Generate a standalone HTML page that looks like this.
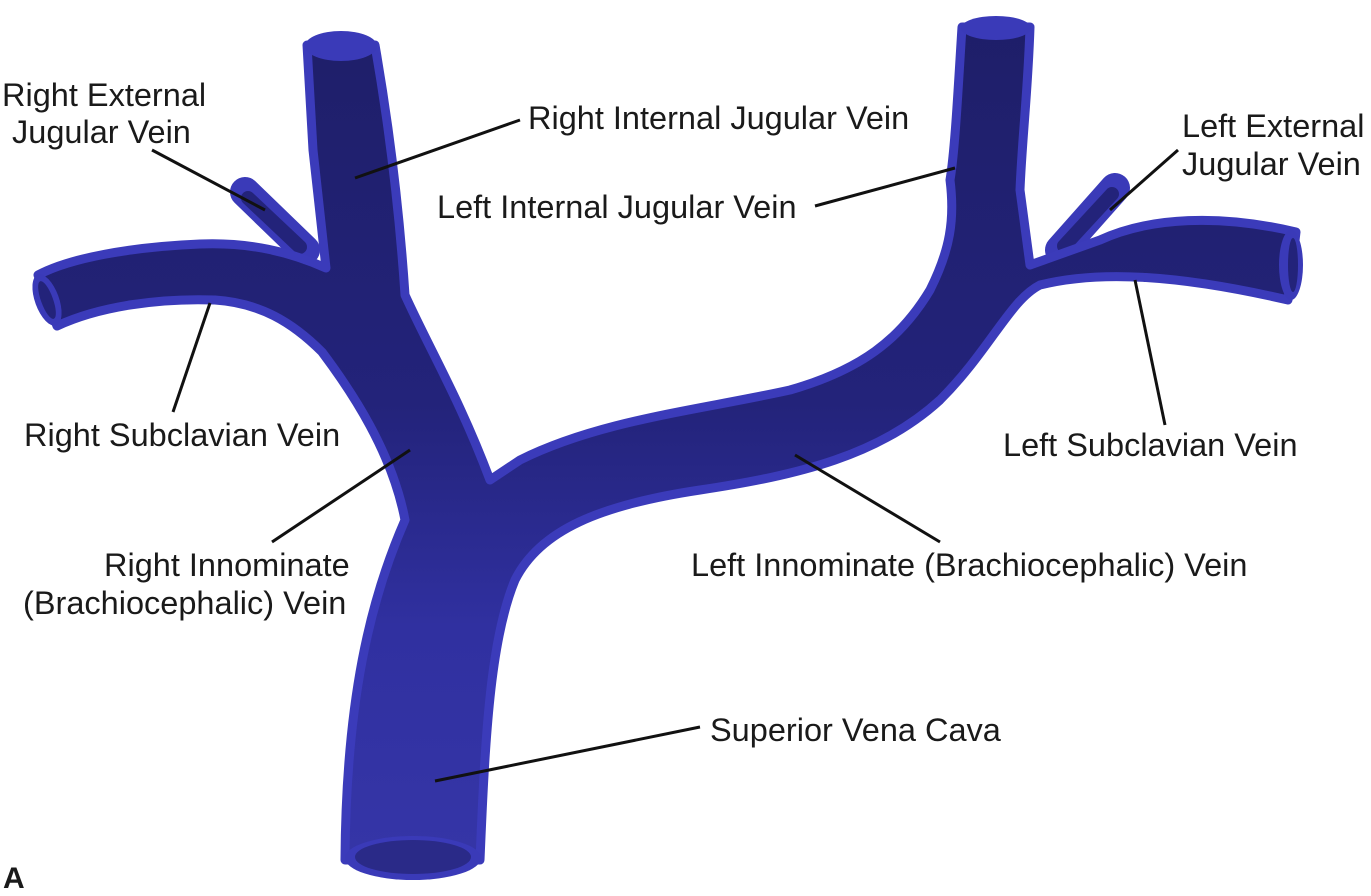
<!DOCTYPE html>
<html><head><meta charset="utf-8"><style>
html,body{margin:0;padding:0;background:#fff}
svg{display:block}
text{font-family:"Liberation Sans",sans-serif;font-size:32.5px;fill:#1a1a1a}
</style></head><body>
<svg width="1371" height="896" viewBox="0 0 1371 896" xmlns="http://www.w3.org/2000/svg">
<defs>
<linearGradient id="gv" x1="0" y1="0" x2="0" y2="896" gradientUnits="userSpaceOnUse">
<stop offset="0" stop-color="#1e1e68"/>
<stop offset="0.45" stop-color="#23237a"/>
<stop offset="0.7" stop-color="#3030a0"/>
<stop offset="1" stop-color="#3636a8"/>
</linearGradient>
</defs>
<path d="M305,250 L245,192" stroke="#3a3ab8" stroke-width="30" stroke-linecap="round" fill="none"/>
<path d="M300,247 L248,198" stroke="#23237a" stroke-width="14" stroke-linecap="round" fill="none"/>
<path d="M1060,250 L1115,188" stroke="#3a3ab8" stroke-width="30" stroke-linecap="round" fill="none"/>
<path d="M1064,246 L1112,194" stroke="#23237a" stroke-width="14" stroke-linecap="round" fill="none"/>
<path fill="url(#gv)" stroke="#3b3bba" stroke-width="9" stroke-linejoin="round" d="
M307,45 L313,150 L326,268
C290,252 250,242 200,244 C130,247 70,258 38,275 L57,326
C100,306 160,298 215,300 C260,303 292,322 322,352
C352,392 392,452 405,520 C370,600 346,700 345,860 L480,860
C485,740 490,640 515,580 C540,530 600,505 700,490
C800,475 880,455 940,400 C990,350 1010,300 1040,285
C1100,270 1180,275 1288,300 L1296,232 C1220,214 1150,217 1100,240 L1030,265
L1020,190 C1022,140 1028,90 1030,27 L962,27
C958,90 955,150 950,180 C955,220 950,250 930,290
C900,340 860,370 790,390 C700,410 600,420 520,460 L490,480
C460,400 430,350 405,295 C402,250 395,160 375,45 Z"/>
<ellipse cx="341" cy="46" rx="36" ry="15" fill="#3a3ab8"/>
<ellipse cx="996" cy="28" rx="35" ry="12" fill="#3a3ab8"/>
<ellipse cx="413" cy="858" rx="68" ry="22" fill="#3a3ab8"/>
<ellipse cx="413" cy="857" rx="58" ry="17" fill="#2a2a88"/>
<ellipse cx="47" cy="300" rx="12" ry="27" fill="#3a3ab8" transform="rotate(-20 47 300)"/>
<ellipse cx="47" cy="300" rx="6" ry="20" fill="#23237a" transform="rotate(-20 47 300)"/>
<ellipse cx="1291" cy="265" rx="12" ry="35" fill="#3a3ab8"/>
<ellipse cx="1293" cy="265" rx="5" ry="27" fill="#23237a"/>
<g stroke="#111" stroke-width="3" fill="none">
<line x1="152" y1="150" x2="265" y2="210"/>
<line x1="520" y1="120" x2="355" y2="178"/>
<line x1="815" y1="206" x2="955" y2="168"/>
<line x1="1178" y1="150" x2="1110" y2="210"/>
<line x1="210" y1="303" x2="173" y2="412"/>
<line x1="1135" y1="280" x2="1165" y2="425"/>
<line x1="410" y1="450" x2="272" y2="542"/>
<line x1="795" y1="455" x2="940" y2="542"/>
<line x1="700" y1="727" x2="435" y2="781"/>
</g>
<text x="2" y="106">Right External</text>
<text x="12" y="143">Jugular Vein</text>
<text x="528" y="129">Right Internal Jugular Vein</text>
<text x="437" y="218">Left Internal Jugular Vein</text>
<text x="1182" y="137">Left External</text>
<text x="1182" y="175">Jugular Vein</text>
<text x="24" y="446">Right Subclavian Vein</text>
<text x="1003" y="456">Left Subclavian Vein</text>
<text x="104" y="576">Right Innominate</text>
<text x="23" y="614">(Brachiocephalic) Vein</text>
<text x="691" y="576">Left Innominate (Brachiocephalic) Vein</text>
<text x="710" y="741">Superior Vena Cava</text>
<text x="3" y="888" style="font-weight:bold;font-size:30px">A</text>
</svg>
</body></html>
